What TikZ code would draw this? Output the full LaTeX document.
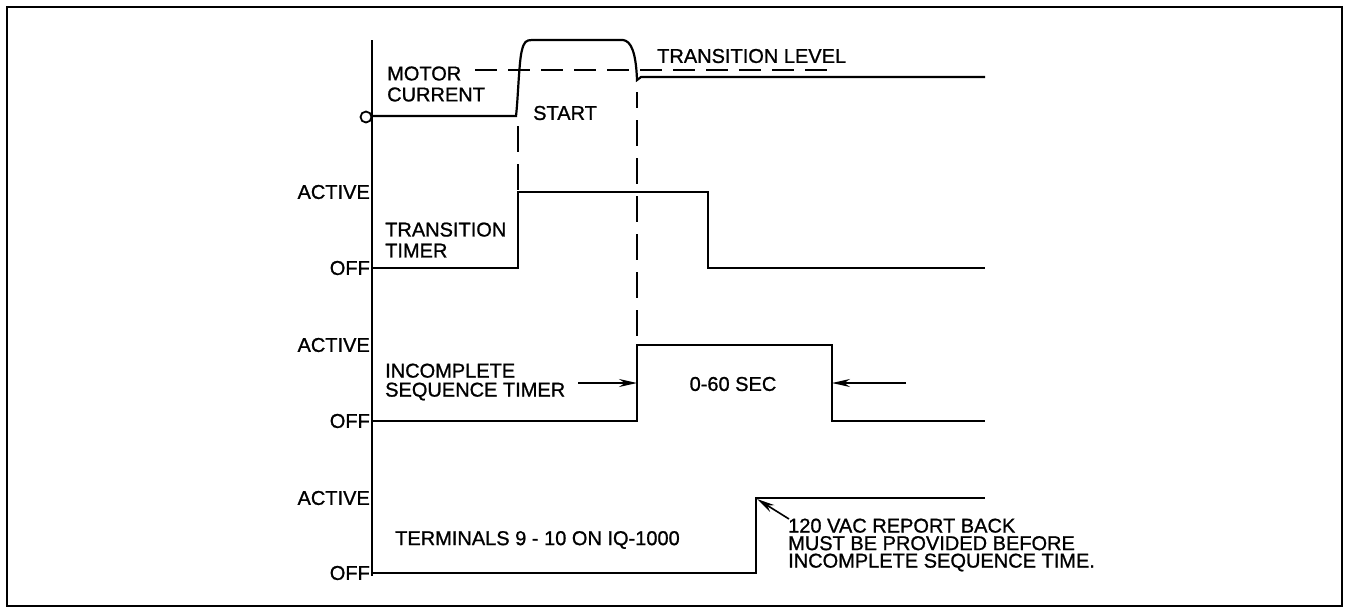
\documentclass[tikz,border=0pt]{standalone}
\usepackage{fontspec}
\setmainfont{Liberation Sans}[RawFeature={embolden=1}]
\usetikzlibrary{arrows.meta}
\tikzset{
  sig/.style={line width=2.2pt, line join=miter},
  dsh/.style={line width=2.2pt, dash pattern=on 22pt off 11pt},
  vdsh/.style={line width=2.2pt, dash pattern=on 26pt off 12pt},
  lbl/.style={font=\fontsize{20}{21}\selectfont, inner sep=0pt, align=left},
  lvl/.style={lbl, anchor=east},
  arr/.style={line width=1.6pt, -{Stealth[length=18pt,width=8pt]}},
  frame/.style={line width=2.2pt}
}
\begin{document}
\begin{tikzpicture}[x=1pt,y=-1pt]
\useasboundingbox (0,0) rectangle (1345,608);
\draw[frame] (7,7) rectangle (1342,606);
% axis
\draw[sig] (372,40) -- (372,576);
\node[draw, circle, inner sep=0pt, minimum size=11pt, line width=1.8pt, fill=white] (zero) at (366,117) {};
% level labels
\node[lvl] (a1) at (370,192) {ACTIVE};
\node[lvl] (o1) at (370,268) {OFF};
\node[lvl] (a2) at (370,345) {ACTIVE};
\node[lvl] (o2) at (370,421) {OFF};
\node[lvl] (a3) at (370,498) {ACTIVE};
\node[lvl] (o3) at (370,573) {OFF};
% motor current
\draw[sig] (372,116) -- (516,116) .. controls (518,100) and (519,60) .. (522,50)
  .. controls (524,42) and (526,40) .. (532,40) -- (623,40)
  .. controls (631,41) and (636,52) .. (637,80) -- (641,77) -- (985,77);
\draw[dsh] (475,70) -- (838,70);
\node[lbl, anchor=west] (mc) at (387,84) {MOTOR\\CURRENT};
\node[lbl, anchor=west] (st) at (533,113) {START};
\node[lbl, anchor=west] (tl) at (657,56) {TRANSITION LEVEL};
% vertical dashed
\draw[vdsh] (518,126) -- (518,192);
\draw[vdsh, dash phase=10pt] (637,92) -- (637,345);
% transition timer
\draw[sig] (372,268) -- (518,268) -- (518,192) -- (708,192) -- (708,268) -- (985,268);
\node[lbl, anchor=west] (tt) at (385,240) {TRANSITION\\TIMER};
% incomplete sequence timer
\draw[sig] (372,421) -- (637,421) -- (637,345) -- (832,345) -- (832,421) -- (985,421);
\coordinate (rise) at (637,383);
\coordinate (fall) at (832,383);
\coordinate (la) at (578,383);
\coordinate (ra) at (906,383);
\node[lbl, anchor=west, font=\fontsize{20}{19}\selectfont] (ist) at (385,382) {INCOMPLETE\\SEQUENCE TIMER};
\node[lbl] (sec) at (733,384) {0-60 SEC};
\draw[arr] (la) -- (rise);
\draw[arr] (ra) -- (fall);
% terminals
\draw[sig] (372,573) -- (756,573) -- (756,498) -- (985,498);
\coordinate (corner) at (757,499);
\node[lbl, anchor=west] (term) at (395,540) {TERMINALS 9 - 10 ON IQ-1000};
\node[lbl, anchor=west, font=\fontsize{20}{17.5}\selectfont] (rb) at (788,545) {120 VAC REPORT BACK\\MUST BE PROVIDED BEFORE\\INCOMPLETE SEQUENCE TIME.};
\coordinate (tail) at (789,519);
\draw[arr] (tail) -- (corner);
\end{tikzpicture}
\end{document}
